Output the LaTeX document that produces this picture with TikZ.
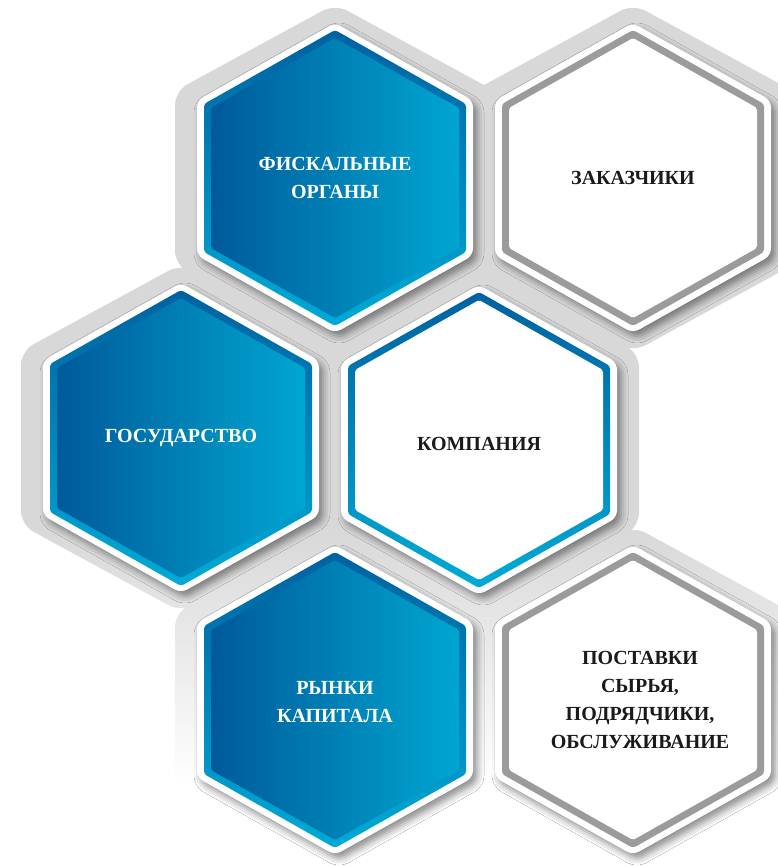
\documentclass[tikz,border=0pt]{standalone}
\usepackage{fontspec}
\setmainfont{Liberation Serif}
\usetikzlibrary{shadows.blur}
\definecolor{bluedark}{RGB}{0,90,155}
\definecolor{bluelight}{RGB}{0,166,208}
\definecolor{edgetop}{RGB}{0,98,160}
\definecolor{edgebot}{RGB}{0,170,214}
\definecolor{edgegrey}{RGB}{155,155,155}
\definecolor{bezelgrey}{RGB}{216,216,216}
\definecolor{inkblack}{RGB}{26,26,26}
\pgfdeclareverticalshading{bezelfade}{100bp}{color(0bp)=(white); color(30bp)=(white); color(45bp)=(bezelgrey); color(100bp)=(bezelgrey)}
% hexagon with pointed top: centre, half width, half height
\newcommand\hexpath[3]{(#1)++(0,-#3)--++(#2,#3/2)--++(0,#3)--++(-#2,#3/2)--++(-#2,-#3/2)--++(0,-#3)--cycle}
% white rim, coloured edge, inner face
\newcommand\tile[3]{%
\path[fill=white,rounded corners=7pt,blur shadow={shadow xshift=4pt,shadow yshift=-5pt,shadow blur radius=7pt,shadow opacity=45}]\hexpath{#1}{138}{155};
\path[#2,rounded corners=3pt]\hexpath{#1}{131}{148};
\path[#3,rounded corners=2pt]\hexpath{#1}{124}{140};}
\begin{document}
\begin{tikzpicture}[x=1pt,y=-1pt,
    lbl/.style={align=center,font=\bfseries\fontsize{20}{28}\selectfont},
    bluefill/.style={left color=bluedark,right color=bluelight},
    whitefill/.style={fill=white},
    blueedge/.style={top color=edgetop,bottom color=edgebot},
    greyedge/.style={fill=edgegrey}]
\useasboundingbox (0,0) rectangle (778,867);
\coordinate (cF) at (335,178);
\coordinate (cZ) at (633,178);
\coordinate (cG) at (181,438);
\coordinate (cK) at (479,440);
\coordinate (cR) at (335,700);
\coordinate (cP) at (633,700);
% grey base
\shade[shading=bezelfade,rounded corners=14pt]\hexpath{cF}{160}{174}\hexpath{cZ}{160}{174}\hexpath{cG}{160}{174}\hexpath{cK}{160}{174}\hexpath{cR}{160}{174}\hexpath{cP}{160}{174};
\tile{cF}{blueedge}{bluefill}
\tile{cZ}{greyedge}{whitefill}
\tile{cG}{blueedge}{bluefill}
\tile{cK}{blueedge}{whitefill}
\tile{cR}{blueedge}{bluefill}
\tile{cP}{greyedge}{whitefill}
\node[lbl,text=white] (fiscal) at (cF) {ФИСКАЛЬНЫЕ\\ОРГАНЫ};
\node[lbl,text=inkblack] (clients) at (cZ) {ЗАКАЗЧИКИ};
\node[lbl,text=white] (state) at (cG) {ГОСУДАРСТВО};
\node[lbl,text=inkblack] (company) at ([yshift=-4]cK) {КОМПАНИЯ};
\node[lbl,text=white] (markets) at ([yshift=-2]cR) {РЫНКИ\\КАПИТАЛА};
\node[lbl,text=inkblack] (supply) at ([xshift=7]cP) {ПОСТАВКИ\\СЫРЬЯ,\\ПОДРЯДЧИКИ,\\ОБСЛУЖИВАНИЕ};
\end{tikzpicture}
\end{document}
